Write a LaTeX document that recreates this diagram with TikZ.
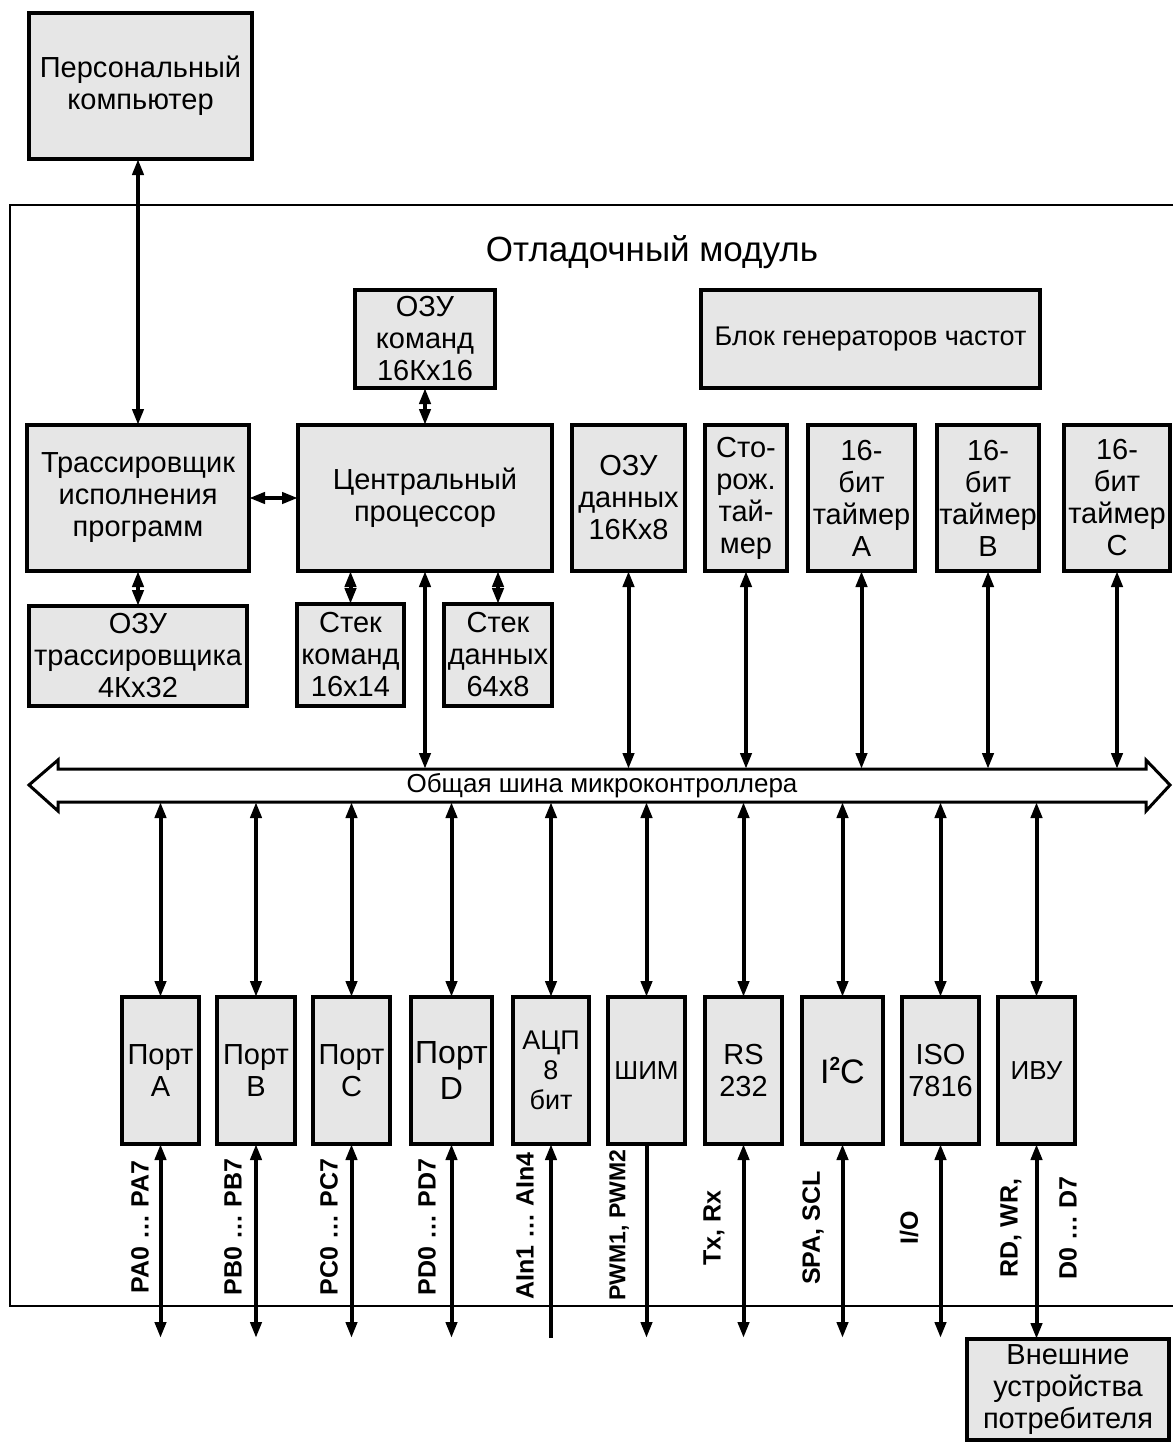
\documentclass[tikz,border=0pt]{standalone}
\usepackage{fontspec}
\setmainfont{Liberation Sans}
\usetikzlibrary{positioning,arrows.meta}

\definecolor{boxgray}{RGB}{230,230,230}
\tikzstyle{block}=[rectangle, draw, line width=1.6pt, fill=boxgray, inner sep=0pt, outer sep=0pt, align=center, font=\fontsize{14.5}{16}\selectfont]
\tikzstyle{tall}=[block, minimum height=73pt]
\tikzstyle{portbox}=[block, minimum width=38.5pt, minimum height=73.5pt]
\tikzstyle{bilink}=[line width=2pt, {Triangle[length=8pt,width=5.5pt]}-{Triangle[length=8pt,width=5.5pt]}]
\tikzstyle{onelink}=[line width=2pt, -{Triangle[length=8pt,width=5.5pt]}]
\tikzstyle{pinlabel}=[rotate=90, inner sep=0pt, font=\fontsize{12.5}{14}\selectfont\bfseries]

\begin{document}
\begin{tikzpicture}[x=0.5pt, y=-0.5pt]
\useasboundingbox (0,0) rectangle (1173,1445);

%%%%%%%%%%%%%%%%%%%%%%%%%%%%%%%%%%%%%%%%%%
% PERSONAL COMPUTER
%%%%%%%%%%%%%%%%%%%%%%%%%%%%%%%%%%%%%%%%%%
\node[block, minimum width=111.5pt, minimum height=73pt] (comp) at (140.5,86) {Персональный\\компьютер};

%%%%%%%%%%%%%%%%%%%%%%%%%%%%%%%%%%%%%%%%%%
% DEBUG MODULE
%%%%%%%%%%%%%%%%%%%%%%%%%%%%%%%%%%%%%%%%%%
\draw[line width=0.8pt] (1173,205) -| (10,1306) -- (1173,1306);
\node[font=\fontsize{17.5}{20}\selectfont] (title) at (652,252) {Отладочный модуль};

\node[tall, minimum width=111pt] (tracer) at (138,498) {Трассировщик\\исполнения\\программ};
\node[tall, minimum width=127pt, right=24.5pt of tracer] (cpu) {Центральный\\процессор};
\node[block, minimum width=70pt, minimum height=49pt, above=18.5pt of cpu] (ramc) {ОЗУ\\команд\\16Кх16};
\node[block, minimum width=109pt, minimum height=50pt, below=17.5pt of tracer] (ramt) {ОЗУ\\трассировщика\\4Кх32};
\node[block, minimum width=53.5pt, minimum height=51pt] (stackc) at (350.5,655) {Стек\\команд\\16х14};
\node[block, minimum width=54pt, minimum height=51pt] (stackd) at (498,655) {Стек\\данных\\64х8};

\node[tall, minimum width=56.5pt, right=10pt of cpu] (ramd) {ОЗУ\\данных\\16Кх8};
\node[tall, minimum width=41pt, right=10pt of ramd] (wdt) {Сто-\\рож.\\тай-\\мер};
\node[tall, minimum width=53.5pt, right=10.5pt of wdt] (tima) {16-\\бит\\таймер\\A};
\node[tall, minimum width=51pt, right=11pt of tima] (timb) {16-\\бит\\таймер\\B};
\node[tall, minimum width=53pt, right=12.5pt of timb] (timc) {16-\\бит\\таймер\\C};
\node[block, minimum width=169.5pt, minimum height=49pt, font=\fontsize{13.5}{16}\selectfont] (gen) at (870.5,339) {Блок генераторов частот};

% bus
\draw[line width=1.5pt, fill=white] (29,785) -- (58,760) -- (58,769) -- (1146,769) -- (1146,760)
  -- (1170,785) -- (1146,811) -- (1146,802) -- (58,802) -- (58,811) -- cycle;
\coordinate (bustop) at (600,769);
\coordinate (busbot) at (600,802);
\node[font=\fontsize{13}{14}\selectfont] (buslabel) at (602,786) {Общая шина микроконтроллера};

% ports
\node[portbox] (porta) at (160.5,1070.5) {Порт\\A};
\node[portbox, minimum width=39pt, right=9pt of porta] (portb) {Порт\\B};
\node[portbox, right=9pt of portb] (portc) {Порт\\C};
\node[portbox, minimum width=40.5pt, right=10.5pt of portc, font=\fontsize{16}{18}\selectfont] (portd) {Порт\\D};
\node[portbox, minimum width=38pt, right=10.5pt of portd, font=\fontsize{13.5}{15}\selectfont] (adc) {АЦП\\8\\бит};
\node[portbox, right=9.5pt of adc, font=\fontsize{13}{15}\selectfont] (pwm) {ШИМ};
\node[portbox, right=10pt of pwm] (rs) {RS\\232};
\node[portbox, minimum width=40.5pt, right=10pt of rs, font=\fontsize{17}{18}\selectfont] (iic) {I\raisebox{0.75ex}{\fontsize{9.5}{9.5}\selectfont\bfseries 2}C};
\node[portbox, right=9.5pt of iic] (iso) {ISO\\7816};
\node[portbox, right=9.5pt of iso, font=\fontsize{13}{15}\selectfont] (ivu) {ИВУ};
\coordinate (pinend) at (0,1338);

\node[pinlabel] (lpa) at (140,1227) {PA0 … PA7};
\node[pinlabel] (lpb) at (233,1227) {PB0 … PB7};
\node[pinlabel] (lpc) at (329,1227) {PC0 … PC7};
\node[pinlabel] (lpd) at (427,1227) {PD0 … PD7};
\node[pinlabel] (lain) at (525,1226) {AIn1 … AIn4};
\node[pinlabel, font=\fontsize{11.5}{13}\selectfont\bfseries] (lpwm) at (619,1225) {PWM1, PWM2};
\node[pinlabel] (ltx) at (714,1228) {Tx, Rx};
\node[pinlabel] (lspa) at (813,1228) {SPA, SCL};
\node[pinlabel] (lio) at (909,1228) {I/O};
\node[pinlabel] (lrd) at (1011,1228) {RD, WR,};
\node[pinlabel] (ld) at (1068,1228) {D0 … D7};

%%%%%%%%%%%%%%%%%%%%%%%%%%%%%%%%%%%%%%%%%%
% EXTERNAL DEVICES
%%%%%%%%%%%%%%%%%%%%%%%%%%%%%%%%%%%%%%%%%%
\node[block, minimum width=101pt, minimum height=50.5pt] (ext) at (1068,1389.5) {Внешние\\устройства\\потребителя};

%%%%%%%%%%%%%%%%%%%%%%%%%%%%%%%%%%%%%%%%%%
% CONNECTIONS
%%%%%%%%%%%%%%%%%%%%%%%%%%%%%%%%%%%%%%%%%%
\draw[bilink] (comp.south -| tracer.north) -- (tracer.north);
\draw[bilink] (ramc.south) -- (cpu.north);
\draw[bilink] (tracer.east) -- (cpu.west);
\draw[bilink] (tracer.south -| ramt.north) -- (ramt.north);
\draw[bilink] (cpu.south -| stackc.north) -- (stackc.north);
\draw[bilink] (cpu.south -| stackd.north) -- (stackd.north);
\draw[bilink] (cpu.south) -- (cpu.south |- bustop);
\foreach \n in {ramd,wdt,tima,timb,timc}
  \draw[bilink] (\n.south) -- (\n.south |- bustop);
\foreach \n in {porta,portb,portc,portd,adc,pwm,rs,iic,iso,ivu}
  \draw[bilink] (\n.north |- busbot) -- (\n.north);
\foreach \n in {porta,portb,portc,portd,rs,iic,iso}
  \draw[bilink] (\n.south) -- (\n.south |- pinend);
\draw[onelink] (adc.south |- pinend) -- (adc.south);
\draw[onelink] (pwm.south) -- (pwm.south |- pinend);
\draw[bilink] (ivu.south) -- (ext.north -| ivu.south);

\end{tikzpicture}
\end{document}
